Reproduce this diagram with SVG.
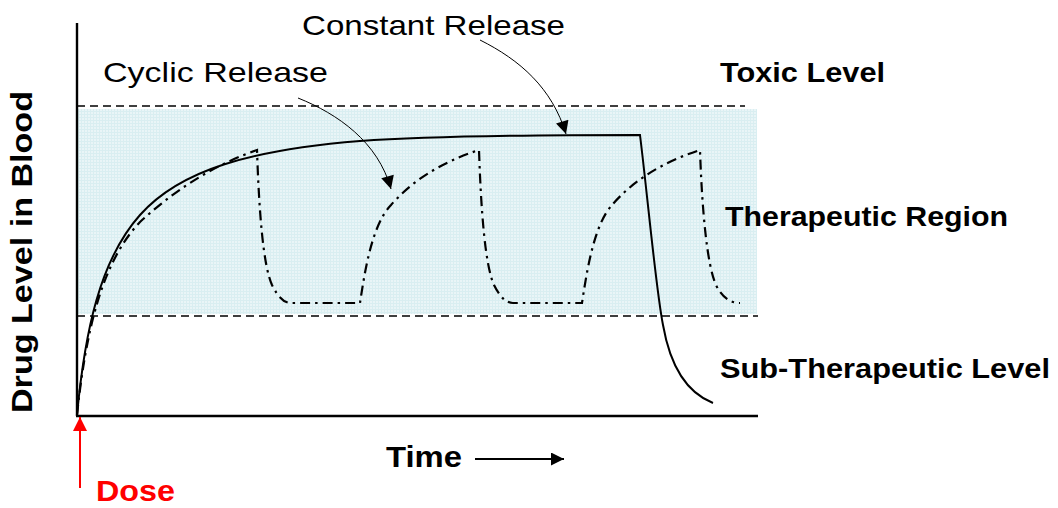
<svg xmlns="http://www.w3.org/2000/svg" width="1058" height="508" viewBox="0 0 1058 508">
<style>
  text { font-family: "Liberation Sans", Arial, sans-serif; fill: #000; }
  .b { font-weight: bold; }
  .axis { stroke: #000; stroke-width: 2.4; fill: none; }
  .lvl { stroke: #000; stroke-width: 1.6; stroke-dasharray: 8 5; fill: none; }
  .const { stroke: #000; stroke-width: 2; fill: none; }
  .cyc { stroke: #000; stroke-width: 2.2; stroke-dasharray: 10 5 2.5 5; fill: none; }
  .call { stroke: #000; stroke-width: 1; fill: none; marker-end: url(#ah); }
</style>
<defs>
  <marker id="ah" viewBox="0 0 10 10" refX="10" refY="5" markerWidth="15" markerHeight="13" markerUnits="userSpaceOnUse" orient="auto">
    <path d="M0,0 L10,5 L0,10 z" fill="#000"/>
  </marker>
  <marker id="ahk" viewBox="0 0 10 10" refX="10" refY="5" markerWidth="15" markerHeight="13" markerUnits="userSpaceOnUse" orient="auto">
    <path d="M0,0 L10,5 L0,10 z" fill="#000"/>
  </marker>
  <marker id="ahr" viewBox="0 0 10 10" refX="10" refY="5" markerWidth="15" markerHeight="14" markerUnits="userSpaceOnUse" orient="auto">
    <path d="M0,0 L10,5 L0,10 z" fill="#ff0000"/>
  </marker>
  <pattern id="grid" width="3" height="3" patternUnits="userSpaceOnUse">
    <rect width="3" height="3" fill="#e9f5f7"/>
    <path d="M0,0.5 H3 M0.5,0 V3" stroke="#d9eef1" stroke-width="1"/>
  </pattern>
</defs>

<g id="therapeutic-band">
  <rect x="77" y="109" width="680" height="205" fill="url(#grid)"/>
</g>

<g id="levels">
  <line class="lvl" x1="77" y1="106" x2="745" y2="106"/>
  <line class="lvl" x1="77" y1="316" x2="758" y2="316"/>
</g>

<g id="axes">
  <line class="axis" x1="77" y1="23" x2="77" y2="416"/>
  <line class="axis" x1="76" y1="416" x2="758" y2="416"/>
</g>

<g id="constant-release-curve">
  <path class="const" d="M77,415 C85,330 100,260 140,215 C180,170 250,150 360,141 C430,136 520,135 640,135 L640,135 C648,200 656,290 663,325 C670,365 685,392 713,403"/>
</g>

<g id="cyclic-release-curve">
  <path class="cyc" d="M77,415 C86,330 102,262 140,222 C180,185 220,163 257,150
    C259,210 263,265 272,285 C278,297 284,303 291,303 L360,303
    C365,270 372,225 391,205 C411,182 439,163 479,150
    C481,210 485,265 494,285 C500,297 506,303 513,303 L582,303
    C587,270 594,225 612,205 C632,182 660,163 700,150
    C702,210 707,265 716,285 C722,297 730,303 740,303"/>
</g>

<g id="connectors">
  <path class="call" d="M480,40 C520,60 552,88 566,134"/>
  <path class="call" d="M298,98 C338,114 378,142 391,189"/>
  <line x1="475" y1="459" x2="564" y2="459" stroke="#000" stroke-width="1.8" marker-end="url(#ahk)"/>
  <line x1="80" y1="488" x2="80" y2="417" stroke="#ff0000" stroke-width="2" marker-end="url(#ahr)"/>
</g>

<g id="label-constant-release">
  <text x="302" y="35" font-size="28" textLength="263" lengthAdjust="spacingAndGlyphs">Constant Release</text>
</g>
<g id="label-cyclic-release">
  <text x="103" y="82" font-size="28" textLength="225" lengthAdjust="spacingAndGlyphs">Cyclic Release</text>
</g>
<g id="label-toxic">
  <text class="b" x="720" y="82" font-size="28" textLength="165" lengthAdjust="spacingAndGlyphs">Toxic Level</text>
</g>
<g id="label-therapeutic">
  <text class="b" x="725" y="226" font-size="28" textLength="283" lengthAdjust="spacingAndGlyphs">Therapeutic Region</text>
</g>
<g id="label-subtherapeutic">
  <text class="b" x="720" y="378" font-size="28" textLength="330" lengthAdjust="spacingAndGlyphs">Sub-Therapeutic Level</text>
</g>
<g id="label-y-axis">
  <text class="b" transform="translate(32,413) rotate(-90)" font-size="29" textLength="322" lengthAdjust="spacingAndGlyphs">Drug Level in Blood</text>
</g>
<g id="label-time">
  <text class="b" x="386" y="467" font-size="30" textLength="76" lengthAdjust="spacingAndGlyphs">Time</text>
</g>
<g id="label-dose">
  <text class="b" x="96" y="501" font-size="29" textLength="79" lengthAdjust="spacingAndGlyphs" style="fill:#ff0000">Dose</text>
</g>
</svg>
